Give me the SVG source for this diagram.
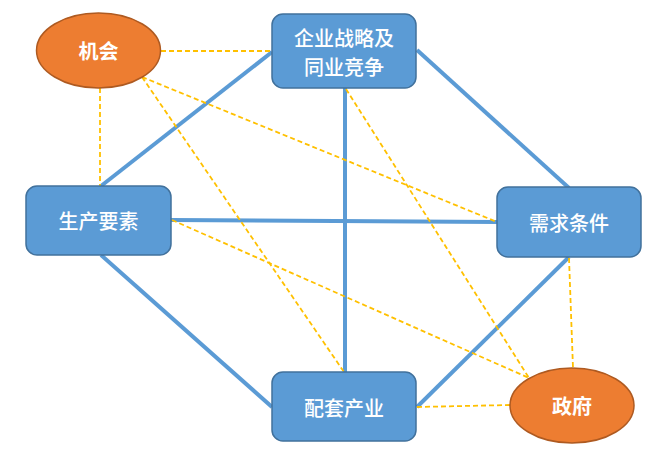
<svg xmlns="http://www.w3.org/2000/svg" width="663" height="453" viewBox="0 0 663 453">
<style>
.box{fill:#5B9BD5;stroke:#41719C;stroke-width:1.5}
.ell{fill:#ED7D31;stroke:#AE5A21;stroke-width:1.5}
.t{fill:#fff;font-family:"Noto Sans CJK SC","Microsoft YaHei",sans-serif;font-size:20px;font-weight:500;text-anchor:middle;dominant-baseline:central}
.tb{font-weight:bold}
.solid{stroke:#5B9BD5;stroke-width:4;fill:none}
.dash{stroke:#FFC000;stroke-width:1.8;stroke-dasharray:5,3;fill:none}
</style>
<rect width="663" height="453" fill="#fff"/>
<g id="connectors">
<line class="solid" x1="272" y1="52" x2="101" y2="186"/>
<line class="solid" x1="417" y1="50" x2="569" y2="188"/>
<line class="solid" x1="345" y1="88" x2="345" y2="373"/>
<line class="solid" x1="171" y1="220" x2="497" y2="222"/>
<line class="solid" x1="101" y1="255" x2="272" y2="407"/>
<line class="solid" x1="569" y1="257" x2="417" y2="407"/>
<line class="dash" x1="161" y1="51" x2="272" y2="51"/>
<line class="dash" x1="100" y1="88" x2="100" y2="186"/>
<line class="dash" x1="142" y1="77" x2="497" y2="222"/>
<line class="dash" x1="142" y1="77" x2="344" y2="372"/>
<line class="dash" x1="346" y1="89" x2="529" y2="378"/>
<line class="dash" x1="172" y1="220" x2="529" y2="378"/>
<line class="dash" x1="569" y1="258" x2="573" y2="368"/>
<line class="dash" x1="417" y1="407" x2="510" y2="405"/>
</g>
<g id="node-jihui">
<ellipse class="ell" cx="98.5" cy="50.5" rx="62" ry="37.5"/>
<text class="t tb" x="98.5" y="50">机会</text>
</g>
<g id="node-qiye">
<rect class="box" x="272" y="14" width="144" height="74" rx="11"/>
<text class="t" x="344" y="37">企业战略及</text>
<text class="t" x="344" y="66">同业竞争</text>
</g>
<g id="node-shengchan">
<rect class="box" x="26" y="186" width="145" height="69" rx="11"/>
<text class="t" x="98.5" y="220">生产要素</text>
</g>
<g id="node-xuqiu">
<rect class="box" x="497" y="187" width="144" height="70" rx="11"/>
<text class="t" x="569" y="222">需求条件</text>
</g>
<g id="node-peitao">
<rect class="box" x="272" y="372" width="144" height="69" rx="11"/>
<text class="t" x="344" y="407">配套产业</text>
</g>
<g id="node-zhengfu">
<ellipse class="ell" cx="572" cy="405.5" rx="62" ry="37.5"/>
<text class="t tb" x="572" y="405">政府</text>
</g>
</svg>
